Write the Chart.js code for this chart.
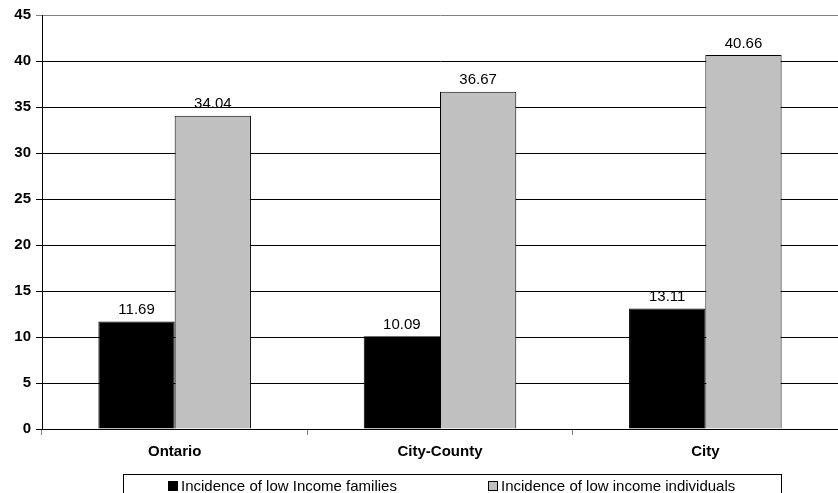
<!DOCTYPE html>
<html>
<head>
<meta charset="utf-8">
<script src="https://cdn.jsdelivr.net/npm/chart.js@4.4.1/dist/chart.umd.min.js"></script>
<style>
  html, body { margin: 0; padding: 0; background: #fff; }
  #wrap { width: 838px; height: 493px; position: relative; }
</style>
</head>
<body>
<div id="wrap"><canvas id="myChart"></canvas></div>
<script>
// regions and incidence values (%)
var regions = ['Ontario', 'City-County', 'City'];
var familyRates = [11.69, 10.09, 13.11];
var individualRates = [34.04, 36.67, 40.66];
var seriesNames = ['Incidence of low Income families', 'Incidence of low income individuals'];
var yTicks = [0, 5, 10, 15, 20, 25, 30, 35, 40, 45];

var FONT = '"Liberation Sans", Arial, sans-serif';

// value printed above each bar
var barValues = {
  id: 'barValues',
  afterDatasetsDraw: function(chart) {
    var ctx = chart.ctx;
    ctx.save();
    ctx.font = '15px ' + FONT;
    ctx.fillStyle = '#000';
    ctx.textAlign = 'center';
    ctx.textBaseline = 'bottom';
    chart.data.datasets.forEach(function(ds, i) {
      chart.getDatasetMeta(i).data.forEach(function(bar, j) {
        ctx.fillText(ds.data[j].toFixed(2), bar.x, bar.y - 4);
      });
    });
    ctx.restore();
  }
};

// boxed legend under the axis
var boxLegend = {
  id: 'boxLegend',
  afterDraw: function(chart) {
    var ctx = chart.ctx;
    var starts = [168, 488];
    ctx.save();
    ctx.strokeStyle = '#000';
    ctx.lineWidth = 1;
    ctx.strokeRect(123.5, 474.5, 658, 40);
    ctx.font = '15px ' + FONT;
    ctx.textBaseline = 'middle';
    ctx.textAlign = 'left';
    chart.data.datasets.forEach(function(ds, i) {
      var x = starts[i];
      ctx.fillStyle = ds.backgroundColor;
      ctx.fillRect(x, 481, 10, 10);
      ctx.strokeStyle = '#000';
      ctx.strokeRect(x + 0.5, 481.5, 9, 9);
      ctx.fillStyle = '#000';
      ctx.fillText(ds.label, x + 13, 487);
    });
    ctx.restore();
  }
};

var ctx = document.getElementById('myChart').getContext('2d');
window.myChart = new Chart(ctx, {
  type: 'bar',
  data: {
    labels: regions,
    datasets: [{
      label: seriesNames[0],
      data: familyRates,
      backgroundColor: '#000000',
      borderColor: '#000000',
      borderWidth: 1
    }, {
      label: seriesNames[1],
      data: individualRates,
      backgroundColor: '#c0c0c0',
      borderColor: '#000000',
      borderWidth: 1
    }]
  },
  options: {
    responsive: true,
    maintainAspectRatio: false,
    animation: false,
    events: [],
    layout: { padding: { top: 15, right: 0, bottom: 20, left: 0 } },
    datasets: {
      bar: { barPercentage: 1, categoryPercentage: 0.575 }
    },
    plugins: {
      legend: { display: false },
      tooltip: { enabled: false }
    },
    scales: {
      x: {
        grid: {
          offset: true,
          drawOnChartArea: false,
          drawTicks: true,
          tickLength: 6,
          color: '#808080'
        },
        border: { color: '#000', width: 1 },
        ticks: {
          color: '#000',
          padding: 8,
          font: { family: FONT, size: 15, weight: 'bold' }
        },
        afterFit: function(scale) { scale.height = 44; }
      },
      y: {
        min: 0,
        max: 45,
        afterBuildTicks: function(scale) {
          scale.ticks = yTicks.map(function(v) { return { value: v }; });
        },
        grid: {
          color: function(c) { return c.tick && c.tick.value === 45 ? '#808080' : '#000'; },
          tickLength: 6,
          lineWidth: 1
        },
        border: { color: '#000', width: 1 },
        ticks: {
          color: '#000',
          padding: 5,
          font: { family: FONT, size: 15, weight: 'bold' }
        },
        afterFit: function(scale) { scale.width = 42; }
      }
    }
  },
  plugins: [barValues, boxLegend]
});
</script>
</body>
</html>
